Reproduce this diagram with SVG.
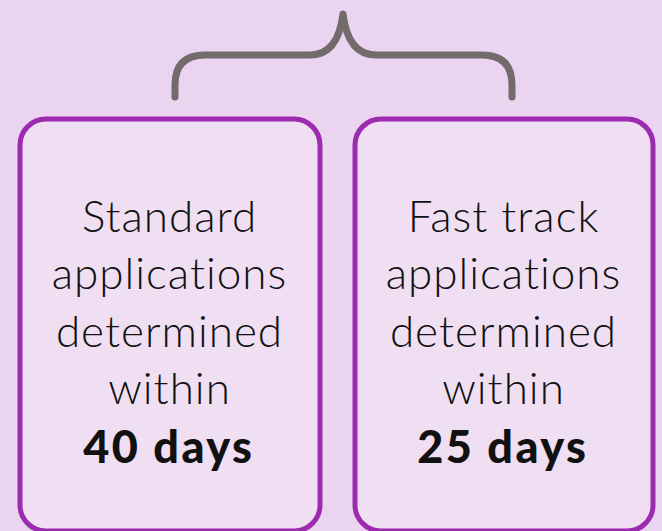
<svg xmlns="http://www.w3.org/2000/svg" width="662" height="531" viewBox="0 0 662 531">
<style>
.box{fill:#f0def3;stroke:#9c2bb0;stroke-width:5}
.t{font-family:Lato,"Noto Sans",sans-serif;font-weight:300;font-size:44px;letter-spacing:1px;fill:#111;text-anchor:middle}
.b{font-family:Lato,"Noto Sans",sans-serif;font-weight:900;font-size:45px;letter-spacing:2.4px;fill:#111;text-anchor:middle}
.brace{fill:none;stroke:#736a6c;stroke-width:7;stroke-linecap:round;stroke-linejoin:round}
</style>
<rect width="662" height="531" fill="#ebd4f0"/>
<g id="connectors">
<path class="brace" d="M175,97 V85 Q175,55 205,55 H310 Q338,55 343,14 Q348,55 376,55 H482 Q512,55 512,85 V97"/>
</g>
<g id="standard">
<rect class="box" x="20" y="119" width="300" height="412" rx="26"/>
<text class="t" x="169.5" y="232">Standard</text>
<text class="t" x="169.5" y="289">applications</text>
<text class="t" x="169.5" y="347">determined</text>
<text class="t" x="169.5" y="404">within</text>
<text class="b" x="168.8" y="463">40 days</text>
</g>
<g id="fasttrack">
<rect class="box" x="355" y="119" width="298" height="412" rx="26"/>
<text class="t" x="503.5" y="232">Fast track</text>
<text class="t" x="503.5" y="289">applications</text>
<text class="t" x="503.5" y="347">determined</text>
<text class="t" x="503.5" y="404">within</text>
<text class="b" x="502.8" y="463">25 days</text>
</g>
</svg>
